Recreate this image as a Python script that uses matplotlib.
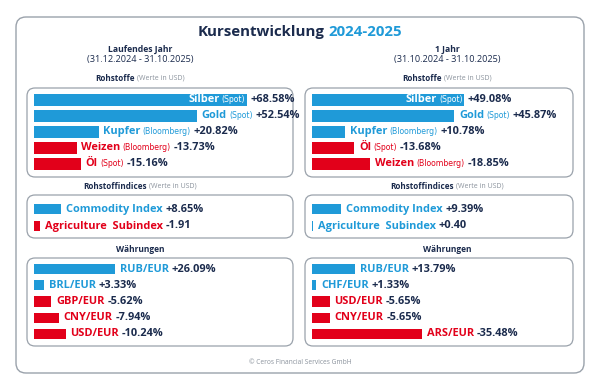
import matplotlib
matplotlib.use('Agg')
import matplotlib.pyplot as plt
from matplotlib.patches import FancyBboxPatch

# colours
BLUE = '#1f9ad8'
RED = '#e2001a'
NAVY = '#1b2b4d'
GREY = '#8a929c'
EDGE = '#9aa2ab'

FONT = 'Open Sans'
NARROW = ['Liberation Sans Narrow', 'DejaVu Sans Condensed', 'DejaVu Sans']

# 1. Data
ytd_rohstoffe = ['Silber', 'Gold', 'Kupfer', 'Weizen', 'Öl']
ytd_rohstoffe_src = ['Spot', 'Spot', 'Bloomberg', 'Bloomberg', 'Spot']
ytd_rohstoffe_vals = [68.58, 52.54, 20.82, -13.73, -15.16]

y1_rohstoffe = ['Silber', 'Gold', 'Kupfer', 'Öl', 'Weizen']
y1_rohstoffe_src = ['Spot', 'Spot', 'Bloomberg', 'Spot', 'Bloomberg']
y1_rohstoffe_vals = [49.08, 45.87, 10.78, -13.68, -18.85]

indices = ['Commodity Index', 'Agriculture  Subindex']
indices_suffix = ['%', '']
ytd_indices_vals = [8.65, -1.91]
y1_indices_vals = [9.39, 0.40]

ytd_waehrungen = ['RUB/EUR', 'BRL/EUR', 'GBP/EUR', 'CNY/EUR', 'USD/EUR']
ytd_waehrungen_vals = [26.09, 3.33, -5.62, -7.94, -10.24]

y1_waehrungen = ['RUB/EUR', 'CHF/EUR', 'USD/EUR', 'CNY/EUR', 'ARS/EUR']
y1_waehrungen_vals = [13.79, 1.33, -5.65, -5.65, -35.48]

# 2. Layout (pixels)
W, H = 600, 389
PX_PER_PCT = 3.1
INSIDE_MIN = 47  # longest bars get their name written inside
LABEL_SIZE = 7.9
SRC_SIZE = 5.6

fig = plt.figure(figsize=(W / 100, H / 100), dpi=100)
bg = fig.add_axes([0, 0, 1, 1])
bg.set_xlim(0, W)
bg.set_ylim(H, 0)
bg.axis('off')


def rbox(x0, y0, x1, y1, r=8, lw=0.9):
    p = FancyBboxPatch((x0 + r, y0 + r), (x1 - x0) - 2 * r, (y1 - y0) - 2 * r,
                       boxstyle=f'round,pad={r}', fc='white', ec=EDGE, lw=lw)
    bg.add_patch(p)


def two_part(x, y, a, b, col_a, col_b, size_a, size_b, w_a='bold', w_b='normal', gap=2):
    t1 = bg.text(0, y, a, color=col_a, fontsize=size_a, weight=w_a, family=FONT, va='center')
    t2 = bg.text(0, y, b, color=col_b, fontsize=size_b, weight=w_b, family=FONT, va='center')
    r = fig.canvas.get_renderer()
    w1 = t1.get_window_extent(r).width
    w2 = t2.get_window_extent(r).width
    left = x - (w1 + gap + w2) / 2
    t1.set_x(left)
    t2.set_x(left + w1 + gap)


# outer frame
rbox(16, 17, 584, 373, r=10, lw=1.0)

two_part(300, 32, 'Kursentwicklung', '2024-2025', NAVY, BLUE, 10.8, 10.8, 'bold', 'bold', gap=4)

cols = {'left': (140, 27, 293, 34), 'right': (447, 305, 573, 312)}
heads = {'left': ('Laufendes Jahr', '(31.12.2024 - 31.10.2025)'),
         'right': ('1 Jahr', '(31.10.2024 - 31.10.2025)')}
for side, (cx, bx0, bx1, ax0) in cols.items():
    bg.text(cx, 49, heads[side][0], ha='center', va='center', fontsize=6.2, weight='bold',
            color=NAVY, family=FONT)
    bg.text(cx, 59.5, heads[side][1], ha='center', va='center', fontsize=6.6,
            color=NAVY, family=FONT)
    two_part(cx, 78, 'Rohstoffe', '(Werte in USD)', NAVY, GREY, 5.9, 5.0)
    two_part(cx, 186, 'Rohstoffindices', '(Werte in USD)', NAVY, GREY, 5.9, 5.0)
    bg.text(cx, 249, 'Währungen', ha='center', va='center', fontsize=6.0, weight='bold',
            color=NAVY, family=FONT)
    rbox(bx0, 88, bx1, 177)
    rbox(bx0, 195, bx1, 238)
    rbox(bx0, 258, bx1, 346)

bg.text(300, 362, '© Ceros Financial Services GmbH', ha='center', va='center',
        fontsize=4.8, color=GREY, family=FONT)


def row_label(ax, y, v, name, src, suffix, inside):
    end = abs(v)
    col = BLUE if v >= 0 else RED
    val = f'{v:+.2f}{suffix}'
    kw = dict(textcoords='offset points', va='center', family=FONT)
    if inside:
        t = ax.annotate(f'({src})', xy=(end, y), xytext=(-1.0, 0), ha='right', color='white',
                        fontsize=SRC_SIZE, textcoords='offset points', va='center', family=NARROW)
        ax.annotate(name, xy=(0, 0.5), xycoords=t, xytext=(-1.5, 0), ha='right', color='white',
                    fontsize=LABEL_SIZE, weight='bold', **kw)
        ax.annotate(val, xy=(end, y), xytext=(2.5, 0), ha='left', color=NAVY,
                    fontsize=LABEL_SIZE, weight='bold', **kw)
    else:
        t = ax.annotate(name, xy=(end, y), xytext=(3.5, 0), ha='left', color=col,
                        fontsize=LABEL_SIZE, weight='bold', **kw)
        if src:
            t = ax.annotate(f'({src})', xy=(1, 0.5), xycoords=t, xytext=(1.5, 0), ha='left',
                            color=col, fontsize=SRC_SIZE, textcoords='offset points',
                            va='center', family=NARROW)
        ax.annotate(val, xy=(1, 0.5), xycoords=t, xytext=(2, 0), ha='left', color=NAVY,
                    fontsize=LABEL_SIZE, weight='bold', **kw)


def panel(x0, x1, y_first, y_last, names, vals, srcs=None, suffixes=None, bar_h=0.75):
    n = len(vals)
    step = (y_last - y_first) / (n - 1)
    top = y_first - step / 2
    bot = y_last + step / 2
    ax = fig.add_axes([x0 / W, 1 - bot / H, (x1 - x0) / W, (bot - top) / H])
    ax.set_xlim(0, (x1 - x0) / PX_PER_PCT)
    ax.set_ylim(n - 0.5, -0.5)
    ax.axis('off')
    ax.patch.set_alpha(0)
    colors = [BLUE if v >= 0 else RED for v in vals]
    ax.barh(range(n), [abs(v) for v in vals], height=bar_h, color=colors)
    biggest = max(abs(v) for v in vals)
    for i, v in enumerate(vals):
        src = srcs[i] if srcs else None
        suf = suffixes[i] if suffixes else '%'
        inside = src is not None and abs(v) == biggest and biggest > INSIDE_MIN
        row_label(ax, i, v, names[i], src, suf, inside)


for side, names, vals, srcs in [('left', ytd_rohstoffe, ytd_rohstoffe_vals, ytd_rohstoffe_src),
                                ('right', y1_rohstoffe, y1_rohstoffe_vals, y1_rohstoffe_src)]:
    ax0 = cols[side][3]
    panel(ax0, cols[side][2] - 4, 100, 164, names, vals, srcs, bar_h=0.75)

for side, vals in [('left', ytd_indices_vals), ('right', y1_indices_vals)]:
    ax0 = cols[side][3]
    panel(ax0, cols[side][2] - 4, 209, 226, indices, vals, suffixes=indices_suffix, bar_h=0.6)

for side, names, vals in [('left', ytd_waehrungen, ytd_waehrungen_vals),
                          ('right', y1_waehrungen, y1_waehrungen_vals)]:
    ax0 = cols[side][3]
    panel(ax0, cols[side][2] - 4, 269, 334, names, vals, bar_h=0.62)

fig.savefig('out.png', dpi=100, facecolor='white')
